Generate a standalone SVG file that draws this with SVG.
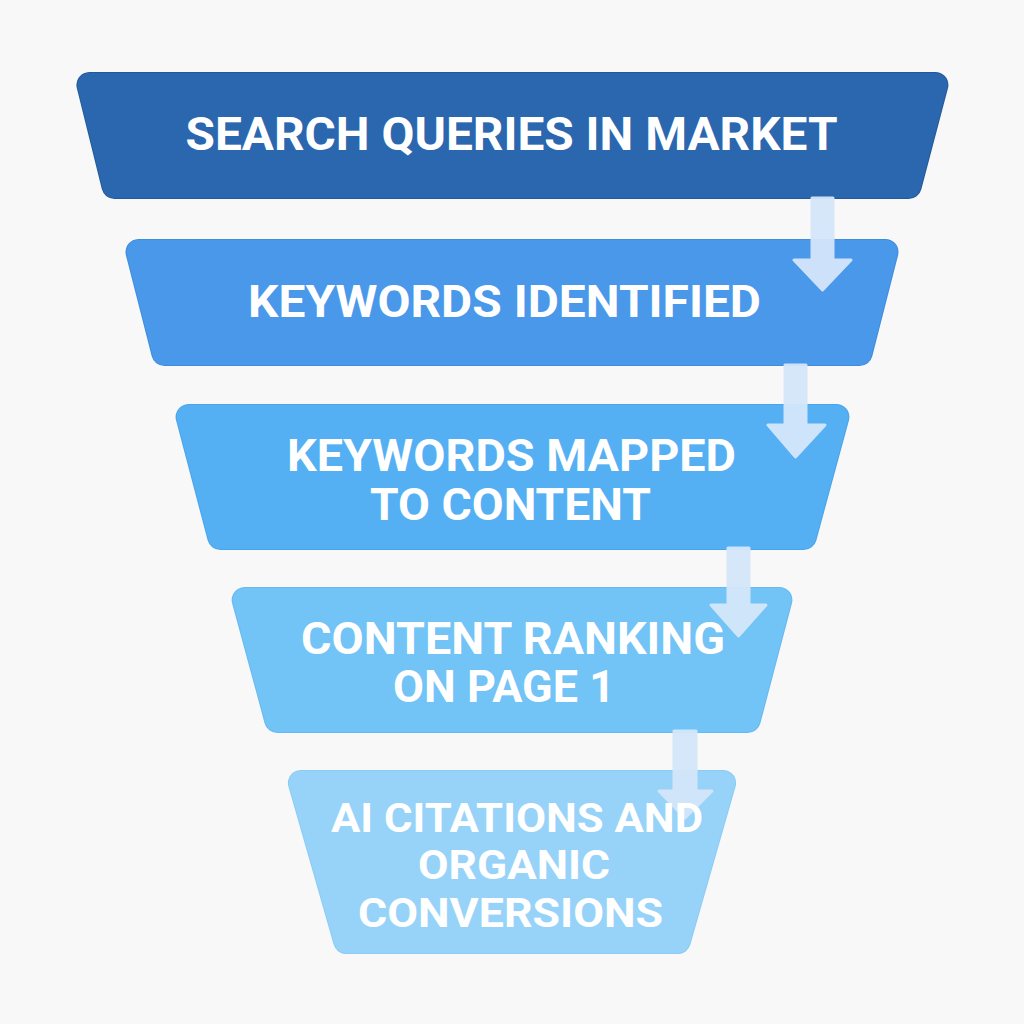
<svg xmlns="http://www.w3.org/2000/svg" width="1024" height="1024" viewBox="0 0 1024 1024">
<defs>
<style>
.shape{stroke-linejoin:round;stroke-width:24}
.edge{stroke-linejoin:round;stroke-width:26}
.lbl{font-family:Roboto,"Liberation Sans",sans-serif;font-weight:700;fill:#FFFFFF;text-anchor:middle}
.arrow{fill:#D5E7FB;stroke:#D5E7FB;stroke-width:3;stroke-linejoin:round;opacity:0.95}
</style>
</defs>
<rect x="0" y="0" width="1024" height="1024" fill="#F8F8F8"/>
<g id="node1">
<polygon class="edge" points="89.4,85 935.4,85 908.8,186 114.4,186" fill="#23599B" stroke="#23599B"/>
<polygon class="shape" points="89.4,85 935.4,85 908.8,186 114.4,186" fill="#2A67AF" stroke="#2A67AF"/>
</g>
<g id="node2">
<polygon class="edge" points="138.5,252 885.5,252 859.7,353 164.3,353" fill="#3F8CDE" stroke="#3F8CDE"/>
<polygon class="shape" points="138.5,252 885.5,252 859.7,353 164.3,353" fill="#4A98E9" stroke="#4A98E9"/>
</g>
<g id="node3">
<polygon class="edge" points="188.6,417 836.4,417 803.8,537 220.2,537" fill="#4AA4EA" stroke="#4AA4EA"/>
<polygon class="shape" points="188.6,417 836.4,417 803.8,537 220.2,537" fill="#55AFF3" stroke="#55AFF3"/>
</g>
<g id="node4">
<polygon class="edge" points="244.7,600 779.4,600 747.8,720 277.2,720" fill="#67B9F1" stroke="#67B9F1"/>
<polygon class="shape" points="244.7,600 779.4,600 747.8,720 277.2,720" fill="#72C3F6" stroke="#72C3F6"/>
</g>
<g id="node5">
<polygon class="edge" points="300.9,783 723.1,783 677.9,941 346.1,941" fill="#8BCBF5" stroke="#8BCBF5"/>
<polygon class="shape" points="300.9,783 723.1,783 677.9,941 346.1,941" fill="#97D3F8" stroke="#97D3F8"/>
</g>
<g id="connectors">
<polygon class="arrow" points="812,198 833,198 833,260 851,260 822.5,290 794,260 812,260"/>
<polygon class="arrow" points="785,365 806,365 806,425 825,425 795.5,457 768,425 785,425"/>
<polygon class="arrow" points="728,548 749,548 749,605 766,605 738.5,636 711,605 728,605"/>
<polygon class="arrow" points="674,731 696,731 696,791 712,791 685,818 659,791 674,791"/>
</g>
<g id="labels">
<text class="lbl" x="511.5" y="150" font-size="47" textLength="652" lengthAdjust="spacingAndGlyphs">SEARCH QUERIES IN MARKET</text>
<text class="lbl" x="504.5" y="317" font-size="45" textLength="513" lengthAdjust="spacingAndGlyphs">KEYWORDS IDENTIFIED</text>
<text class="lbl" x="511.5" y="471" font-size="44" textLength="449" lengthAdjust="spacingAndGlyphs">KEYWORDS MAPPED</text>
<text class="lbl" x="510.5" y="520" font-size="44" textLength="281" lengthAdjust="spacingAndGlyphs">TO CONTENT</text>
<text class="lbl" x="513" y="654" font-size="44" textLength="424" lengthAdjust="spacingAndGlyphs">CONTENT RANKING</text>
<text class="lbl" x="504" y="702" font-size="44" textLength="222" lengthAdjust="spacingAndGlyphs">ON PAGE 1</text>
<text class="lbl" x="517" y="832" font-size="41" textLength="372" lengthAdjust="spacingAndGlyphs">AI CITATIONS AND</text>
<text class="lbl" x="514" y="879" font-size="41" textLength="192" lengthAdjust="spacingAndGlyphs">ORGANIC</text>
<text class="lbl" x="510.5" y="927" font-size="41" textLength="305" lengthAdjust="spacingAndGlyphs">CONVERSIONS</text>
</g>
</svg>
